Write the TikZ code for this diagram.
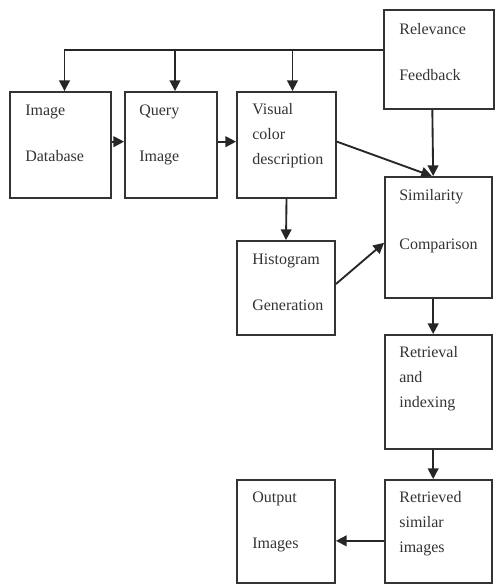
\documentclass[tikz,border=0pt]{standalone}
\usepackage{fontspec}
\setmainfont{Liberation Serif}
\usetikzlibrary{arrows.meta,fit}

\tikzset{
  box/.style={draw=black!80, line width=1.4pt, inner sep=0pt},
  txt/.style={anchor=north west, inner sep=0pt, align=left, text=black!80,
    font=\fontsize{12}{18.75}\selectfont},
  arr/.style={draw=black!85, line width=1.4pt, -{Triangle[length=8pt,width=8pt]}},
}

\begin{document}
\begin{tikzpicture}[x=0.75pt,y=-0.75pt]
\useasboundingbox (0,0) rectangle (496,585);

% boxes
\node[box, fit={(10,92) (111,198)}] (db) {};
\node[box, fit={(125,92) (217,198)}] (qi) {};
\node[box, fit={(237,92) (336,198)}] (vc) {};
\node[box, fit={(384,10) (494,109)}] (fb) {};
\node[box, fit={(237,241) (335,335)}] (hg) {};
\node[box, fit={(385,177) (492,298)}] (sc) {};
\node[box, fit={(385,335) (492,449)}] (ri) {};
\node[box, fit={(385,480) (492,583)}] (rs) {};
\node[box, fit={(237,480) (335,583)}] (oi) {};

% texts
\node[txt] (dbtxt) at ([shift={(16,13.5)}]db.north west) {Image\\[15.75pt]Database};
\node[txt] (qitxt) at ([shift={(15,13.5)}]qi.north west) {Query\\[15.75pt]Image};
\node[txt] (vctxt) at ([shift={(16,12)}]vc.north west) {Visual\\color\\description};
\node[txt] (fbtxt) at ([shift={(16,14.5)}]fb.north west) {Relevance\\[15.75pt]Feedback};
\node[txt] (hgtxt) at ([shift={(16,14)}]hg.north west) {Histogram\\[15.75pt]Generation};
\node[txt] (sctxt) at ([shift={(15,13.5)}]sc.north west) {Similarity\\[18pt]Comparison};
\node[txt] (ritxt) at ([shift={(15,12.5)}]ri.north west) {Retrieval\\and\\indexing};
\node[txt] (rstxt) at ([shift={(15,12.5)}]rs.north west) {Retrieved\\similar\\images};
\node[txt] (oitxt) at ([shift={(16,12.5)}]oi.north west) {Output\\[15.75pt]Images};

% connectors
\coordinate (fbin) at (fb.west |- 0,50);
\draw[arr] (fbin) -| ([xshift=3pt]db.north);
\draw[arr] ([xshift=3pt]qi.north |- fbin) -- ([xshift=3pt]qi.north);
\draw[arr] ([xshift=4.5pt]vc.north |- fbin) -- ([xshift=4.5pt]vc.north);
\draw[arr] ([yshift=2.5pt]db.east) -- ([yshift=2.5pt]qi.west);
\draw[arr] ([yshift=2.5pt]qi.east) -- ([yshift=2.5pt]vc.west);
\draw[arr] ([yshift=2.5pt]vc.east) -- ([xshift=-5pt]sc.north);
\draw[arr] ([xshift=-5pt]fb.south) -- ([xshift=-4pt]sc.north);
\draw[arr] (vc.south) -- (hg.north);
\draw[arr] ([yshift=3pt]hg.east) -- ([yshift=-4pt]sc.west);
\draw[arr] ([xshift=-4pt]sc.south) -- ([xshift=-4pt]ri.north);
\draw[arr] ([xshift=-4pt]ri.south) -- ([xshift=-4pt]rs.north);
\draw[arr] ([yshift=-7pt]rs.west) -- ([yshift=-7pt]oi.east);

\end{tikzpicture}
\end{document}
